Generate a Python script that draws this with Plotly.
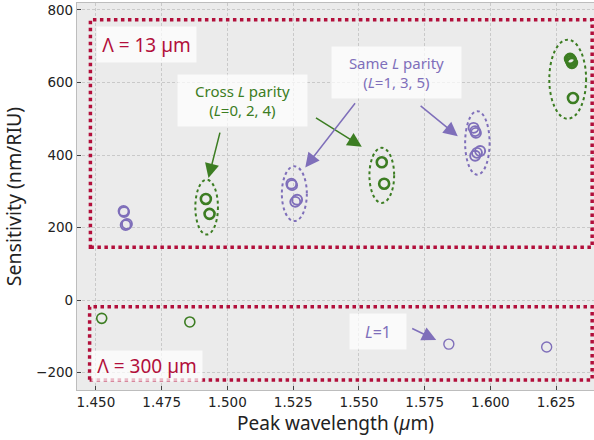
import plotly.graph_objects as go

# ---------------- data ----------------
# Lambda = 13 um, cross L parity (L=0,2,4)
green13_x = [1.4918, 1.4932, 1.5587, 1.5596, 1.6303, 1.6307, 1.6310, 1.6314]
green13_y = [279, 238, 380, 321, 665, 660, 654, 557]
# Lambda = 13 um, same L parity (L=1,3,5)
purple13_x = [1.4605, 1.4607, 1.4618, 1.4613, 1.5243, 1.5246, 1.5265, 1.5258,
              1.5936, 1.5942, 1.5945, 1.5949, 1.5961, 1.5942]
purple13_y = [246, 243, 210, 207, 321, 317, 277, 271,
              475, 466, 461, 406, 411, 398]
# Lambda = 300 um
green300_x = [1.4522, 1.4857]
green300_y = [-50, -60]
purple300_x = [1.5842, 1.6214]
purple300_y = [-121, -129]

x_ticks = [1.450, 1.475, 1.500, 1.525, 1.550, 1.575, 1.600, 1.625]
y_ticks = [-200, 0, 200, 400, 600, 800]

# group ellipses (x0, x1, y0, y1, colour key)
ellipses = [
    (1.4878, 1.4964, 181, 332, "g"),
    (1.5207, 1.5302, 218, 369, "p"),
    (1.5540, 1.5634, 268, 420, "g"),
    (1.5904, 1.5997, 346, 521, "p"),
    (1.6224, 1.6364, 500, 718, "g"),
]
# region boxes (x0, x1, y0, y1)
boxes = [
    (1.4479, 1.6387, 146, 773),
    (1.4476, 1.6387, -220, -18),
]

GREEN = "#3c7d22"
PURPLE = "#7f6fba"
RED = "#b20f3b"
col = {"g": GREEN, "p": PURPLE}

fig = go.Figure()
fig.add_trace(go.Scatter(x=green13_x, y=green13_y, mode="markers",
                         marker=dict(symbol="circle-open", size=10, color=GREEN,
                                     line=dict(width=2.6)), showlegend=False))
fig.add_trace(go.Scatter(x=purple13_x, y=purple13_y, mode="markers",
                         marker=dict(symbol="circle-open", size=10, color=PURPLE,
                                     line=dict(width=1.9)), showlegend=False))
fig.add_trace(go.Scatter(x=green300_x, y=green300_y, mode="markers",
                         marker=dict(symbol="circle-open", size=10, color=GREEN,
                                     line=dict(width=1.6)), showlegend=False))
fig.add_trace(go.Scatter(x=purple300_x, y=purple300_y, mode="markers",
                         marker=dict(symbol="circle-open", size=10, color=PURPLE,
                                     line=dict(width=1.4)), showlegend=False))

shapes = []
for x0, x1, y0, y1, c in ellipses:
    shapes.append(dict(type="circle", xref="x", yref="y", x0=x0, x1=x1, y0=y0, y1=y1,
                       line=dict(color=col[c], width=2, dash="dot")))
for x0, x1, y0, y1 in boxes:
    shapes.append(dict(type="rect", xref="x", yref="y", x0=x0, x1=x1, y0=y0, y1=y1,
                       line=dict(color=RED, width=3.5, dash="dot")))

AF = "Noto Sans, Open Sans, sans-serif"
BG = "rgba(255,255,255,0.72)"
ann = []
ann.append(dict(x=1.4693, y=706, xref="x", yref="y", text="Λ = 13 µm", showarrow=False,
                font=dict(family=AF, size=19, color=RED), bgcolor=BG, width=97, height=33))
ann.append(dict(x=1.4695, y=-180, xref="x", yref="y", text="Λ = 300 µm", showarrow=False,
                font=dict(family=AF, size=19, color=RED), bgcolor=BG, width=108, height=28))
ann.append(dict(x=1.5057, y=549, xref="x", yref="y",
                text="Cross <i>L</i> parity<br>(<i>L</i>=0, 2, 4)", showarrow=False,
                font=dict(family=AF, size=15, color=GREEN), bgcolor=BG, width=127, height=49))
ann.append(dict(x=1.5644, y=628, xref="x", yref="y",
                text="Same <i>L</i> parity<br>(<i>L</i>=1, 3, 5)", showarrow=False,
                font=dict(family=AF, size=15, color=PURPLE), bgcolor=BG, width=127, height=49))
ann.append(dict(x=1.5573, y=-85, xref="x", yref="y", text="<i>L</i>=1", showarrow=False,
                font=dict(family=AF, size=16, color=PURPLE), bgcolor=BG, width=54, height=33))

# arrows: (tail x, tail y, head x, head y, colour)
arrows = [
    (1.4973, 466, 1.4928, 337, "g"),
    (1.5331, 505, 1.5511, 423, "g"),
    (1.5490, 547, 1.5296, 366, "p"),
    (1.5729, 539, 1.5876, 452, "p"),
    (1.5697, -76, 1.5794, -110, "p"),
]
for tx, ty, hx, hy, c in arrows:
    ann.append(dict(x=hx, y=hy, ax=tx, ay=ty, xref="x", yref="y", axref="x", ayref="y",
                    text="", showarrow=True, arrowhead=2, arrowsize=1.9, arrowwidth=1.5,
                    arrowcolor=col[c]))

fig.update_layout(
    width=594, height=440,
    margin=dict(l=77, r=0, t=3, b=50),
    paper_bgcolor="white", plot_bgcolor="#ebebeb",
    shapes=shapes, annotations=ann,
    font=dict(family="DejaVu Sans", size=13.5, color="#222"),
)
fig.update_xaxes(range=[1.4428, 1.6394], tickvals=x_ticks, tickformat=".3f",
                 ticks="inside", ticklen=4, tickwidth=1.2, tickcolor="#444",
                 showgrid=True, gridcolor="#c9c9c9", griddash="3px,2px", gridwidth=0.8,
                 showline=True, linecolor="#bdbdbd", linewidth=1.2, mirror=True,
                 zeroline=False,
                 title=dict(text="Peak wavelength (<i>µ</i>m)",
                            font=dict(family=AF, size=19, color="#222"), standoff=6))
fig.update_yaxes(range=[-247.5, 819], tickvals=y_ticks,
                 ticks="inside", ticklen=4, tickwidth=1.2, tickcolor="#444",
                 showgrid=True, gridcolor="#c9c9c9", griddash="3px,2px", gridwidth=0.8,
                 showline=True, linecolor="#bdbdbd", linewidth=1.2, mirror=True,
                 zeroline=False,
                 title=dict(text="Sensitivity (nm/RIU)",
                            font=dict(family=AF, size=19.5, color="#222"), standoff=10))

fig.write_html("out.html", config={"displayModeBar": False},
               post_script="document.body.style.margin='0px';document.body.style.overflow='hidden';")
